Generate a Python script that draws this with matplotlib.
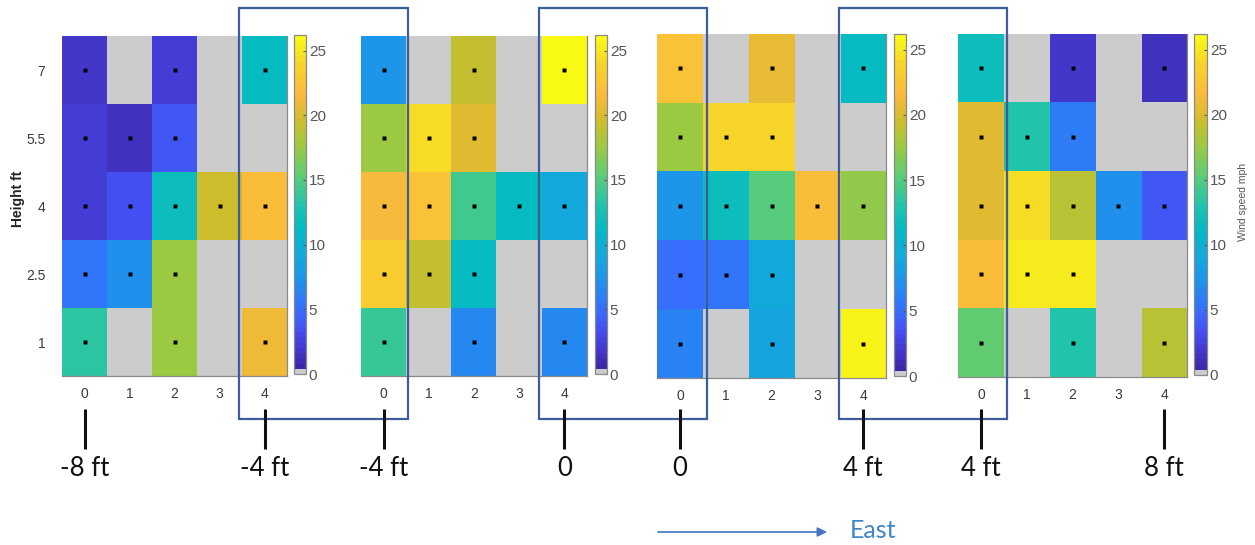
import numpy as np
import matplotlib
matplotlib.use('Agg')
import matplotlib.pyplot as plt
from matplotlib.colors import LinearSegmentedColormap, ListedColormap
from matplotlib.patches import Rectangle

nan = np.nan

# ---------------- data ----------------
heights = ['7', '5.5', '4', '2.5', '1']          # rows, top to bottom
columns = ['0', '1', '2', '3', '4']

panel_1 = [[1.8, nan, 2.2, nan, 11.5],
           [2.3, 1.5, 4.0, nan, nan],
           [2.2, 3.3, 12.0, 19.5, 22.0],
           [5.5, 7.0, 17.5, nan, nan],
           [13.5, nan, 17.5, nan, 21.0]]

panel_2 = [[7.5, nan, 19.0, nan, 26.0],
           [17.5, 24.3, 20.5, nan, nan],
           [21.5, 22.3, 14.5, 11.5, 9.0],
           [23.0, 19.0, 11.5, nan, nan],
           [14.0, nan, 6.5, nan, 6.7]]

panel_3 = [[22.5, nan, 20.8, nan, 11.5],
           [17.5, 24.0, 23.8, nan, nan],
           [7.5, 11.7, 15.0, 22.0, 17.0],
           [5.0, 5.3, 9.0, nan, nan],
           [6.3, nan, 8.5, nan, 25.5]]

panel_4 = [[12.0, nan, 2.0, nan, 1.5],
           [20.5, 13.3, 6.0, nan, nan],
           [20.2, 24.2, 18.8, 7.2, 4.0],
           [22.0, 25.3, 25.0, nan, nan],
           [15.5, nan, 13.0, nan, 18.8]]

panels = [panel_1, panel_2, panel_3, panel_4]

position_labels = ['-8 ft', '-4 ft', '-4 ft', '0', '0', '4 ft', '4 ft', '8 ft']
position_cells = [(0, 0), (0, 4), (1, 0), (1, 4), (2, 0), (2, 4), (3, 0), (3, 4)]
cbar_ticks = [0, 5, 10, 15, 20, 25]
vmin, vmax = 0, 26.2

# ---------------- colormap (parula-like with gray first entry) ----------------
parula_anchors = [
    (0.00, (0.2422, 0.1504, 0.6603)),
    (0.10, (0.2780, 0.2920, 0.9400)),
    (0.17, (0.2200, 0.4300, 0.9950)),
    (0.25, (0.1300, 0.5600, 0.9300)),
    (0.33, (0.0800, 0.6600, 0.8700)),
    (0.42, (0.0100, 0.7300, 0.7700)),
    (0.50, (0.1500, 0.7700, 0.6600)),
    (0.58, (0.3600, 0.8000, 0.4700)),
    (0.67, (0.6200, 0.7900, 0.2500)),
    (0.75, (0.8200, 0.7400, 0.1700)),
    (0.83, (0.9800, 0.7300, 0.2400)),
    (0.92, (0.9700, 0.8300, 0.1700)),
    (1.00, (0.9769, 0.9839, 0.0805)),
]
parula = LinearSegmentedColormap.from_list('parula', parula_anchors)
gray = (0.80, 0.80, 0.80)
cols = [gray] + [parula(i / 63) for i in range(64)]
cmap = ListedColormap(cols)
cmap.set_bad(gray)

# ---------------- layout ----------------
W, H = 1255, 545
fig = plt.figure(figsize=(W / 100, H / 100), dpi=100)
fig.patch.set_facecolor('white')

def px(l, t, r, b):
    return [l / W, 1 - b / H, (r - l) / W, (b - t) / H]

ax_boxes = [(62, 36, 287, 376), (361, 36, 587, 376),
            (657, 34, 886, 378), (958, 34, 1187, 377)]
cb_boxes = [(294, 35, 306, 374), (595, 35, 607, 374),
            (894, 34, 906, 376), (1194, 34, 1207, 375)]

tick_color = '#3a3a3a'
axes = []
for k, (data, box, cbox) in enumerate(zip(panels, ax_boxes, cb_boxes)):
    arr = np.array(data, dtype=float)
    ax = fig.add_axes(px(*box))
    im = ax.imshow(np.ma.masked_invalid(arr), cmap=cmap, vmin=vmin, vmax=vmax,
                   aspect='auto', interpolation='nearest')
    rr, cc = np.where(np.isfinite(arr))
    ax.plot(cc, rr, linestyle='none', marker='s', ms=2.2, color='black', mec='none')
    ax.set_xlim(-0.5, 4.5)
    ax.set_ylim(4.5, -0.5)
    ax.set_xticks(range(5))
    ax.set_xticklabels(columns)
    ax.set_yticks(range(5))
    if k == 0:
        ax.set_yticklabels(heights)
    else:
        ax.set_yticklabels([])
    ax.tick_params(length=0, labelsize=10, colors=tick_color, pad=8)
    ax.tick_params(axis='y', pad=12)
    for s in ['top', 'left']:
        ax.spines[s].set_visible(False)
    for s in ['bottom', 'right']:
        ax.spines[s].set_color('#8a8a8a')
        ax.spines[s].set_linewidth(0.9)
    for t in ax.get_xticklabels() + ax.get_yticklabels():
        t.set_family('Liberation Sans')
    cax = fig.add_axes(px(*cbox))
    cb = fig.colorbar(im, cax=cax, ticks=cbar_ticks)
    cb.outline.set_edgecolor('#8a8a8a')
    cb.outline.set_linewidth(0.9)
    cax.tick_params(direction='in', length=2, width=0.8, labelsize=11,
                    colors='#555555', pad=2)
    for t in cax.get_yticklabels():
        t.set_family('Liberation Sans')
    axes.append(ax)

# ---------------- overlay annotations ----------------
ov = fig.add_axes([0, 0, 1, 1])
ov.set_xlim(0, W)
ov.set_ylim(H, 0)
ov.axis('off')
ov.patch.set_alpha(0)

rect_color = '#3D5C9C'
for (l, r) in [(239, 408), (539, 707), (839, 1007)]:
    ov.add_patch(Rectangle((l, 8), r - l, 411, fill=False, edgecolor=rect_color,
                           linewidth=1.6, zorder=5))

for lab, (p, c) in zip(position_labels, position_cells):
    l, t, r, b = ax_boxes[p]
    x = l + (c + 0.5) / 5 * (r - l)
    ov.plot([x, x], [409, 449], color='#111111', lw=2.2, solid_capstyle='butt', zorder=6)
    ov.text(x, 469, lab, ha='center', va='center', fontsize=18.5,
            family='Lato', color='#111111')

ov.text(18, 199, 'Height ft', rotation=90, ha='center', va='center',
        fontsize=10, fontweight='bold', family='Liberation Sans', color='#222222')
ov.text(1243, 202, 'Wind speed mph', rotation=90, ha='center', va='center',
        fontsize=7.5, family='Liberation Sans', color='#555555')

ov.annotate('', xy=(827, 532), xytext=(658, 532),
            arrowprops=dict(arrowstyle='-|>', color='#4472C4', lw=1.2,
                            mutation_scale=14, shrinkA=0, shrinkB=0))
ov.text(850, 530, 'East', ha='left', va='center', fontsize=18,
        family='Lato', color='#3E86C9')

fig.savefig('out.png', dpi=100, facecolor='white')
